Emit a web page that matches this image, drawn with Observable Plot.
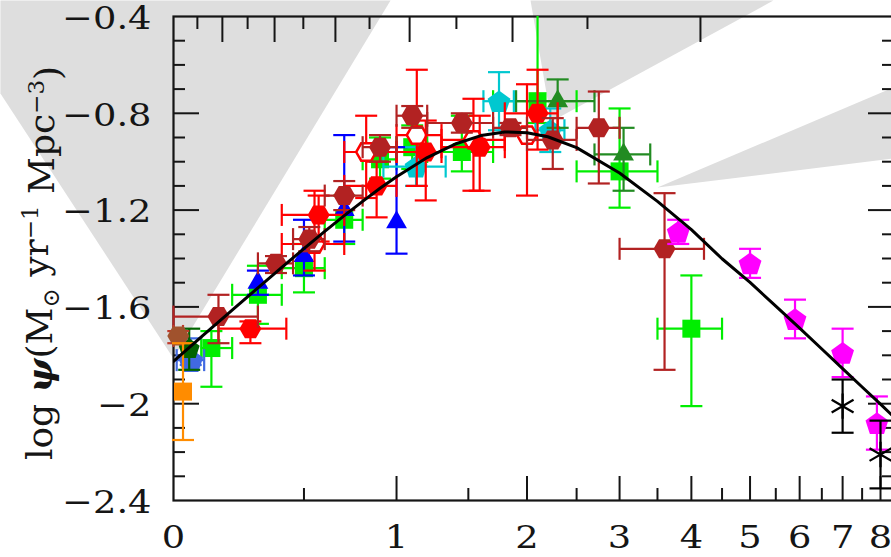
<!DOCTYPE html>
<html>
<head>
<meta charset="utf-8">
<script src="https://cdn.jsdelivr.net/npm/d3@7"></script>
<script src="https://cdn.jsdelivr.net/npm/@observablehq/plot@0.6"></script>
<style>
  html, body { margin: 0; padding: 0; background: #fff; overflow: hidden; }
  #chart svg { max-width: none !important; width: 900px !important; height: 557px !important; }
</style>
</head>
<body>
<div id="chart"></div>
<script>
// ---------------- data (z = redshift, psi = log SFR density) ----------------
// Gruppioni+2013 (firebrick hexagons)
const grupZ   = [0.15, 0.375, 0.525, 0.7, 0.9, 1.1, 1.45, 1.85, 2.25, 2.75, 3.6];
const grupZlo = [0.00, 0.30, 0.45, 0.60, 0.80, 1.00, 1.20, 1.70, 2.00, 2.50, 3.00];
const grupZhi = [0.30, 0.45, 0.60, 0.80, 1.00, 1.20, 1.70, 2.00, 2.50, 3.00, 4.20];
const grupPsi = [-1.64, -1.42, -1.32, -1.14, -0.94, -0.81, -0.84, -0.86, -0.91, -0.86, -1.36];
const grupUp  = [0.09, 0.03, 0.05, 0.06, 0.05, 0.04, 0.04, 0.02, 0.09, 0.15, 0.23];
const grupDn  = [0.11, 0.04, 0.05, 0.06, 0.06, 0.05, 0.04, 0.03, 0.12, 0.23, 0.50];

// Magnelli+2013 (red filled hexagons)
const mag13Z   = [0.27, 0.57, 0.88, 1.19, 1.59, 2.10];
const mag13Zlo = [0.15, 0.40, 0.70, 1.00, 1.30, 1.80];
const mag13Zhi = [0.42, 0.70, 1.00, 1.30, 1.80, 2.30];
const mag13Psi = [-1.69, -1.22, -1.10, -0.96, -0.94, -0.80];
const mag13Up  = [0.03, 0.08, 0.10, 0.13, 0.13, 0.18];
const mag13Dn  = [0.06, 0.11, 0.13, 0.20, 0.18, 0.15];

// Magnelli+2011 (red open hexagons)
const mag11Z   = [0.55, 0.82, 1.13, 1.54, 2.00];
const mag11Zlo = [0.40, 0.70, 1.00, 1.30, 1.80];
const mag11Zhi = [0.70, 1.00, 1.30, 1.80, 2.30];
const mag11Psi = [-1.34, -0.96, -0.89, -0.91, -0.89];
const mag11Up  = [0.22, 0.15, 0.27, 0.17, 0.21];
const mag11Dn  = [0.11, 0.19, 0.21, 0.21, 0.25];

// Cucciati+2012 (green squares)
const cucZ   = [0.125, 0.3, 0.5, 0.7, 0.9, 1.1, 1.45, 2.1, 3.0, 4.0];
const cucZlo = [0.09, 0.2, 0.4, 0.6, 0.8, 1.0, 1.2, 1.7, 2.5, 3.5];
const cucZhi = [0.2, 0.4, 0.6, 0.8, 1.0, 1.2, 1.7, 2.5, 3.5, 4.5];
const cucPsi = [-1.77, -1.55, -1.44, -1.24, -0.99, -0.94, -0.96, -0.75, -1.04, -1.69];
const cucUp  = [0.07, 0.12, 0.10, 0.10, 0.09, 0.09, 0.15, 0.49, 0.26, 0.22];
const cucDn  = [0.16, 0.12, 0.10, 0.10, 0.08, 0.09, 0.08, 0.09, 0.15, 0.32];

// Dahlen+2007 (turquoise pentagons)
const dahZ   = [1.125, 1.75, 2.225];
const dahZlo = [0.92, 1.62, 2.08];
const dahZhi = [1.33, 1.88, 2.37];
const dahPsi = [-1.02, -0.75, -0.87];
const dahUp  = [0.08, 0.12, 0.09];
const dahDn  = [0.08, 0.12, 0.09];

// Reddy & Steidel 2009 (dark green triangles)
const redZ   = [2.3, 3.05];
const redZlo = [1.9, 2.7];
const redZhi = [2.7, 3.4];
const redPsi = [-0.75, -0.97];
const redUp  = [0.09, 0.11];
const redDn  = [0.11, 0.15];

// Schiminovich+2005 (blue triangles)
const schZ   = [0.3, 0.5, 0.7, 1.0];
const schPsi = [-1.50, -1.39, -1.20, -1.25];
const schUp  = [0.05, 0.15, 0.31, 0.31];
const schDn  = [0.05, 0.08, 0.13, 0.13];

// Bouwens+2012 (magenta pentagons)
const bouZ   = [3.8, 5.0, 5.9, 7.0, 7.9];
const bouPsi = [-1.29, -1.42, -1.65, -1.79, -2.08];
const bouUp  = [0.05, 0.06, 0.08, 0.10, 0.11];
const bouDn  = [0.05, 0.06, 0.08, 0.10, 0.11];

// Schenker+2013 (black asterisks)
const schenZ   = [7.0, 8.0];
const schenPsi = [-2.01, -2.21];
const schenUp  = [0.11, 0.14];
const schenDn  = [0.11, 0.14];

// local points
const wydZ = [0.055], wydZlo = [0.01], wydZhi = [0.1], wydPsi = [-1.82], wydUp = [0.09], wydDn = [0.02];
const robZ = [0.05], robPsi = [-1.77], robUp = [0.08], robDn = [0.09];
const sanZ = [0.015], sanZlo = [0.0], sanZhi = [0.03], sanPsi = [-1.72], sanUp = [0.02], sanDn = [0.03];
const takZ = [0.03], takPsi = [-1.95], takUp = [0.20], takDn = [0.20];

// best-fit curve
const curveZ   = [0, 0.1, 0.2, 0.3, 0.4, 0.5, 0.6, 0.7, 0.8, 0.9, 1.0, 1.2, 1.4, 1.6, 1.8, 2.0, 2.2, 2.5, 3.0, 3.5, 4.0, 4.5, 5.0, 5.5, 6.0, 6.5, 7.0, 7.5, 8.0, 8.5];
const curvePsi = [-1.825, -1.714, -1.613, -1.521, -1.437, -1.359, -1.288, -1.223, -1.164, -1.110, -1.062, -0.983, -0.927, -0.892, -0.877, -0.880, -0.897, -0.942, -1.047, -1.164, -1.281, -1.401, -1.499, -1.597, -1.688, -1.774, -1.855, -1.931, -2.002, -2.071];

// axes
const xMajorTicks = [1, 2, 3, 4, 5, 6, 7, 8];
const xMinorTicks = [0.5, 1.5, 2.5, 3.5, 4.5, 5.5, 6.5, 7.5];
const xTickLabels = [0, 1, 2, 3, 4, 5, 6, 7, 8];
const topMajorTicks = [0.164, 0.369, 0.654, 1.083, 1.868, 4.143];
const topMinorTicks = [0.077, 0.259, 0.497, 0.839, 1.409, 2.62];
const yMajorTicks = [-0.8, -1.2, -1.6, -2.0];
const yMinorTicks = [-0.5, -0.6, -0.7, -0.9, -1.0, -1.1, -1.3, -1.4, -1.5, -1.7, -1.8, -1.9, -2.1, -2.2, -2.3];
const yTickLabels = [-0.4, -0.8, -1.2, -1.6, -2, -2.4];

// grey background wedges (in 1+z and log psi units)
const wedgeId       = ["a", "a", "a", "a", "b", "b", "b", "c", "c", "c"];
const wedgeOnePlusZ = [0.584, 1.963, 1.0, 0.584, 3.033, 6.452, 3.236, 4.5, 9.57, 9.57];
const wedgePsi      = [-0.334, -0.334, -1.813, -0.718, -0.334, -0.334, -0.834, -1.107, -0.681, -0.983];

// ---------------- helpers ----------------
const rowsOf = (z, psi, up, dn, zlo, zhi) => z.map((v, i) => ({
  x: 1 + v, y: psi[i], y1: psi[i] - dn[i], y2: psi[i] + up[i],
  x1: zlo ? 1 + zlo[i] : null, x2: zhi ? 1 + zhi[i] : null
}));

const radiusOf = size => Math.sqrt(size / Math.PI);
const hCap = { draw(c, s) { const h = radiusOf(s); c.moveTo(-h, 0); c.lineTo(h, 0); } };
const vCap = { draw(c, s) { const h = radiusOf(s); c.moveTo(0, -h); c.lineTo(0, h); } };
const hexagon = { draw(c, s) { const R = radiusOf(s);
  for (let k = 0; k < 6; k++) { const a = k * Math.PI / 3; const px = R * Math.cos(a), py = R * Math.sin(a); k ? c.lineTo(px, py) : c.moveTo(px, py); }
  c.closePath(); } };
const pentagon = { draw(c, s) { const R = radiusOf(s);
  for (let k = 0; k < 5; k++) { const a = -Math.PI / 2 + k * 2 * Math.PI / 5; const px = R * Math.cos(a), py = R * Math.sin(a) + R * 0.1; k ? c.lineTo(px, py) : c.moveTo(px, py); }
  c.closePath(); } };
const triangle = { draw(c, s) { const R = radiusOf(s); const hs = R * Math.sqrt(3) / 2;
  c.moveTo(0, -R); c.lineTo(hs, R / 2); c.lineTo(-hs, R / 2); c.closePath(); } };
const square = { draw(c, s) { const h = radiusOf(s); c.rect(-h, -h, 2 * h, 2 * h); } };

const SW = 2.2;
function errorBars(rows, color, clip = false) {
  const m = [
    Plot.ruleX(rows, {x: "x", y1: "y1", y2: "y2", stroke: color, strokeWidth: SW, clip}),
    Plot.dot(rows, {x: "x", y: "y1", symbol: hCap, r: 11, stroke: color, strokeWidth: SW, fill: "none", clip}),
    Plot.dot(rows, {x: "x", y: "y2", symbol: hCap, r: 11, stroke: color, strokeWidth: SW, fill: "none", clip})
  ];
  if (rows[0].x1 != null) m.push(
    Plot.ruleY(rows, {y: "y", x1: "x1", x2: "x2", stroke: color, strokeWidth: SW}),
    Plot.dot(rows, {x: "x1", y: "y", symbol: vCap, r: 11, stroke: color, strokeWidth: SW, fill: "none"}),
    Plot.dot(rows, {x: "x2", y: "y", symbol: vCap, r: 11, stroke: color, strokeWidth: SW, fill: "none"})
  );
  return m;
}
function points(rows, symbol, r, fill, stroke = "none", sw = 0) {
  return Plot.dot(rows, {x: "x", y: "y", symbol, r, fill, stroke, strokeWidth: sw});
}

const grup  = rowsOf(grupZ, grupPsi, grupUp, grupDn, grupZlo, grupZhi);
const mag13 = rowsOf(mag13Z, mag13Psi, mag13Up, mag13Dn, mag13Zlo, mag13Zhi);
const mag11 = rowsOf(mag11Z, mag11Psi, mag11Up, mag11Dn, mag11Zlo, mag11Zhi);
const cuc   = rowsOf(cucZ, cucPsi, cucUp, cucDn, cucZlo, cucZhi);
const dah   = rowsOf(dahZ, dahPsi, dahUp, dahDn, dahZlo, dahZhi);
const red   = rowsOf(redZ, redPsi, redUp, redDn, redZlo, redZhi);
const sch   = rowsOf(schZ, schPsi, schUp, schDn);
const bou   = rowsOf(bouZ, bouPsi, bouUp, bouDn);
const schen = rowsOf(schenZ, schenPsi, schenUp, schenDn);
const wyd   = rowsOf(wydZ, wydPsi, wydUp, wydDn, wydZlo, wydZhi);
const rob   = rowsOf(robZ, robPsi, robUp, robDn);
const san   = rowsOf(sanZ, sanPsi, sanUp, sanDn, sanZlo, sanZhi);
const tak   = rowsOf(takZ, takPsi, takUp, takDn);

const wedges = wedgeId.map((id, i) => ({id, x: wedgeOnePlusZ[i], y: wedgePsi[i]}));
const curve = curveZ.map((z, i) => ({x: 1 + z, y: curvePsi[i]}));

const FONT = "DejaVu Serif";
const INK = "#151515";
const FW = 721, FH = 484; // frame size in px (for tick insets)
const fmt = v => String(v).replace("-", "\u2212");

const chart = Plot.plot({
  width: 900, height: 557,
  marginLeft: 173, marginRight: 6, marginTop: 16, marginBottom: 57,
  style: {background: "#fff", overflow: "visible"},
  x: {type: "log", domain: [1, 9.4], axis: null},
  y: {domain: [-2.4, -0.4], axis: null},
  marks: [
    Plot.line(wedges, {x: "x", y: "y", z: "id", fill: "#dedede", stroke: "none"}),
    // ticks
    Plot.tickX(xMajorTicks, {x: d => 1 + d, insetTop: FH - 24, stroke: INK, strokeWidth: 2}),
    Plot.tickX(xMinorTicks, {x: d => 1 + d, insetTop: FH - 12, stroke: INK, strokeWidth: 2}),
    Plot.tickX(topMajorTicks, {x: d => 1 + d, insetBottom: FH - 26, stroke: INK, strokeWidth: 2}),
    Plot.tickX(topMinorTicks, {x: d => 1 + d, insetBottom: FH - 13, stroke: INK, strokeWidth: 2}),
    Plot.tickY(yMajorTicks, {y: d => d, insetRight: FW - 26, stroke: INK, strokeWidth: 2}),
    Plot.tickY(yMinorTicks, {y: d => d, insetRight: FW - 12, stroke: INK, strokeWidth: 2}),
    Plot.tickY(yMajorTicks, {y: d => d, insetLeft: FW - 26, stroke: INK, strokeWidth: 2}),
    Plot.tickY(yMinorTicks, {y: d => d, insetLeft: FW - 12, stroke: INK, strokeWidth: 2}),
    Plot.frame({stroke: INK, strokeWidth: 2.2}),
    // data
    errorBars(cuc, "#00ee00", true),
    points(cuc, square, 9, "#00ee00"),
    errorBars(sch, "#0000ff"),
    points(sch, triangle, 12, "#0000ff"),
    errorBars(dah, "#00c8d0"),
    points(dah, pentagon, 12, "#00c8d0"),
    errorBars(red, "#228b22"),
    points(red, triangle, 12, "#228b22"),
    errorBars(mag11, "#ff0000"),
    points(mag11, hexagon, 10, "#fff", "#ff0000", 2.5),
    errorBars(mag13, "#ff0000"),
    points(mag13, hexagon, 11, "#ff0000"),
    errorBars(grup, "#b22222"),
    points(grup, hexagon, 11, "#b22222"),
    errorBars(bou, "#ff00ff"),
    points(bou, pentagon, 12, "#ff00ff"),
    errorBars(schen, "#000"),
    Plot.dot(schen, {x: "x", y: "y", symbol: "asterisk", r: 12, stroke: "#000", strokeWidth: 2.2}),
    errorBars(wyd, "#4169e1"),
    points(wyd, pentagon, 13, "#4169e1"),
    errorBars(rob, "#006400"),
    points(rob, pentagon, 11, "#006400"),
    errorBars(san, "#c0392b"),
    points(san, hexagon, 11, "#a0522d"),
    errorBars(tak, "#ff8c00"),
    points(tak, square, 9, "#ff8c00"),
    // fit
    Plot.line(curve, {x: "x", y: "y", stroke: "#000", strokeWidth: 3, clip: true}),
    // tick labels
    Plot.text(yTickLabels, {y: d => d, text: fmt, frameAnchor: "left", dx: -22, dy: 2, textAnchor: "end",
      lineAnchor: "middle", fontSize: 32, fontFamily: FONT, fill: INK, className: "stretch"}),
    Plot.text(xTickLabels, {x: d => 1 + d, text: d => String(d), frameAnchor: "bottom", dy: 37,
      lineAnchor: "middle", fontSize: 32, fontFamily: FONT, fill: INK, className: "stretch"})
  ]
});

document.getElementById("chart").appendChild(chart);

// widen tick-label glyphs like the original plotting font
d3.select(chart).selectAll("g.stretch text").each(function () {
  const tr = this.getAttribute("transform") || "";
  this.setAttribute("transform", tr + " scale(1.15,1)");
});

// y-axis title
const svg = d3.select(chart);
const t = svg.append("text")
  .attr("transform", "translate(52,263) rotate(-90)")
  .attr("text-anchor", "middle")
  .style("font-family", FONT)
  .style("font-size", "36px")
  .style("fill", INK);
t.append("tspan").text("log ");
t.append("tspan").text("\u03c8").style("font-style", "italic").style("font-weight", "bold");
t.append("tspan").text("(M");
t.append("tspan").text("\u2299").attr("dy", "0.3em").style("font-size", "23px");
t.append("tspan").text(" yr").attr("dy", "-0.3em");
t.append("tspan").text("\u22121").attr("dy", "-0.45em").style("font-size", "23px");
t.append("tspan").text(" Mpc").attr("dy", "0.45em");
t.append("tspan").text("\u22123").attr("dy", "-0.45em").style("font-size", "23px");
t.append("tspan").text(")").attr("dy", "0.45em");
</script>
</body>
</html>
